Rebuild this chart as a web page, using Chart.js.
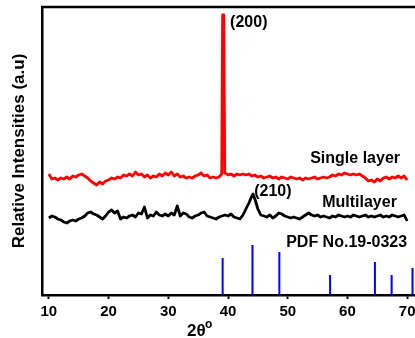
<!DOCTYPE html>
<html>
<head>
<meta charset="utf-8">
<script src="https://cdn.jsdelivr.net/npm/chart.js@4.4.0/dist/chart.umd.min.js"></script>
<style>
  html, body { margin: 0; padding: 0; background: #fff; overflow: hidden; }
  #wrap { width: 415px; height: 338px; overflow: hidden; }
</style>
</head>
<body>
<div id="wrap"><canvas id="xrd" width="440" height="338"></canvas></div>
<script>
// Single layer (red) - 2theta and intensity
const redAngle = [
  10, 10.5, 11, 11.5, 12, 12.5, 13, 13.5, 14, 14.5,
  15, 15.5, 16, 16.5, 17, 17.5, 18, 18.5, 19, 19.5,
  20, 20.5, 21, 21.5, 22, 22.5, 23, 23.5, 24, 24.5,
  25, 25.5, 26, 26.5, 27, 27.5, 28, 28.5, 29, 29.5,
  30, 30.5, 31, 31.5, 32, 32.5, 33, 33.5, 34, 34.5,
  35, 35.5, 36, 36.5, 37, 37.5, 38, 38.5,
  38.95, 39.1, 39.3, 39.45, 39.8,
  40, 40.5, 41, 41.5, 42, 42.5, 43, 43.5, 44, 44.5,
  45, 45.5, 46, 46.5, 47, 47.5, 48, 48.5, 49, 49.5,
  50, 50.5, 51, 51.5, 52, 52.5, 53, 53.5, 54, 54.5,
  55, 55.5, 56, 56.5, 57, 57.5, 58, 58.5, 59, 59.5,
  60, 60.5, 61, 61.5, 62, 62.5, 63, 63.5, 64, 64.5,
  65, 65.5, 66, 66.5, 67, 67.5, 68, 68.5, 69, 69.5,
  70
];
const redIntensity = [
  121, 116, 117, 115, 117, 116, 118, 116, 119, 118,
  120, 121, 119, 117, 114, 112, 110, 113, 111, 114,
  115, 117, 116, 118, 117, 120, 119, 121, 119, 123,
  120, 121, 118, 120, 117, 119, 118, 121, 119, 122,
  120, 123, 119, 121, 118, 119, 117, 118, 117, 119,
  120, 122, 119, 120, 117, 118, 117, 118,
  121, 280, 280, 122, 121,
  120, 121, 119, 121, 120, 121, 120, 121, 119, 120,
  118, 119, 117, 118, 119, 117, 118, 116, 118, 117,
  116, 118, 117, 116, 117, 115, 117, 116, 117, 118,
  116, 117, 118, 117, 118, 120, 119, 121, 120, 122,
  121, 120, 121, 120, 121, 119, 117, 114, 115, 113,
  116, 114, 117, 118, 116, 118, 117, 119, 117, 119,
  115
];

// Multilayer (black)
const blackAngle = [
  10, 10.5, 11, 11.5, 12, 12.5, 13, 13.5, 14, 14.5,
  15, 15.5, 16, 16.5, 17, 17.5, 18, 18.5, 19, 19.5,
  20, 20.5, 21, 21.5, 22, 22.5, 23, 23.5, 24, 24.5,
  25, 25.5, 26, 26.5, 27, 27.5, 28, 28.5, 29, 29.5,
  30, 30.5, 31, 31.5, 32, 32.5, 33, 33.5, 34, 34.5,
  35, 35.5, 36, 36.5, 37, 37.5, 38, 38.5, 39, 39.5,
  40, 40.5, 41, 41.5, 42, 42.5, 43, 43.5, 44, 44.2, 44.5,
  45, 45.5, 46, 46.5, 47, 47.5, 48, 48.5, 49, 49.5,
  50, 50.5, 51, 51.5, 52, 52.5, 53, 53.5, 54, 54.5,
  55, 55.5, 56, 56.5, 57, 57.5, 58, 58.5, 59, 59.5,
  60, 60.5, 61, 61.5, 62, 62.5, 63, 63.5, 64, 64.5,
  65, 65.5, 66, 66.5, 67, 67.5, 68, 68.5, 69, 69.5,
  70
];
const blackIntensity = [
  77, 79, 78, 76, 75, 73, 72, 74, 75, 74,
  76, 77, 79, 82, 83, 81, 80, 78, 76, 79,
  83, 85, 82, 84, 76, 78, 77, 79, 80, 78,
  82, 81, 88, 77, 80, 79, 83, 80, 79, 81,
  79, 82, 80, 89, 79, 82, 81, 78, 77, 79,
  80, 82, 83, 79, 78, 77, 76, 78, 79, 80,
  79, 81, 78, 77, 76, 80, 86, 92, 99, 101, 96,
  86, 80, 79, 78, 80, 77, 79, 82, 81, 79,
  78, 77, 78, 77, 76, 78, 80, 82, 80, 79,
  80, 78, 79, 78, 77, 79, 78, 80, 79, 78,
  79, 78, 80, 79, 78, 79, 80, 78, 79, 78,
  79, 80, 78, 79, 78, 80, 79, 78, 79, 80,
  74
];

// PDF No.19-0323 reference lines (blue)
const pdfAngle = [39.1, 44.1, 48.6, 57.1, 64.6, 67.4, 70.9];
const pdfIntensity = [37, 50, 43, 20, 33, 20, 27];

const xTickValues = [10, 20, 30, 40, 50, 60, 70];

// text labels inside the plot, anchored in data units
const notes = [
  { text: '(200)', x: 40.35, y: 272 },
  { text: 'Single layer', x: 53.76, y: 136 },
  { text: '(210)', x: 44.38, y: 103.5 },
  { text: 'Multilayer', x: 55.77, y: 92 },
  { text: 'PDF No.19-0323', x: 49.74, y: 52.5 }
];

const FONT = "'Liberation Sans', Arial, sans-serif";

const pairs = (xs, ys) => xs.map((x, i) => ({ x: x, y: ys[i] }));

const pdfPoints = [];
pdfAngle.forEach((a, i) => {
  pdfPoints.push({ x: a, y: 0 });
  pdfPoints.push({ x: a, y: pdfIntensity[i] });
  pdfPoints.push({ x: a, y: null });
});

const decorPlugin = {
  id: 'decor',
  afterDraw(chart) {
    const { ctx, chartArea, scales } = chart;
    ctx.save();
    // top frame line
    ctx.strokeStyle = '#000';
    ctx.lineWidth = 2.5;
    ctx.beginPath();
    ctx.moveTo(chartArea.left - 1, chartArea.top);
    ctx.lineTo(chartArea.right, chartArea.top);
    ctx.stroke();

    ctx.fillStyle = '#000';
    ctx.textBaseline = 'middle';
    ctx.textAlign = 'left';
    ctx.font = 'bold 16px ' + FONT;
    notes.forEach(n => {
      ctx.fillText(n.text, scales.x.getPixelForValue(n.x), scales.y.getPixelForValue(n.y));
    });

    // x axis title 2θ with superscript o
    const ty = chartArea.bottom + 36;
    ctx.font = 'bold 17px ' + FONT;
    ctx.fillText('2θ', 187, ty);
    ctx.font = 'bold 12px ' + FONT;
    ctx.fillText('o', 205, ty - 6);
    ctx.restore();
  }
};

new Chart(document.getElementById('xrd').getContext('2d'), {
  type: 'line',
  data: {
    datasets: [
      {
        label: 'Single layer',
        data: pairs(redAngle, redIntensity),
        borderColor: '#ff0000',
        borderWidth: 2.8,
        borderJoinStyle: 'round',
        pointRadius: 0,
        tension: 0,
        fill: false
      },
      {
        label: 'Multilayer',
        data: pairs(blackAngle, blackIntensity),
        borderColor: '#000000',
        borderWidth: 2.8,
        borderJoinStyle: 'round',
        pointRadius: 0,
        tension: 0,
        fill: false
      },
      {
        label: 'PDF No.19-0323',
        data: pdfPoints,
        borderColor: '#0000ff',
        borderWidth: 2,
        pointRadius: 0,
        spanGaps: false,
        fill: false
      }
    ]
  },
  options: {
    responsive: false,
    animation: false,
    devicePixelRatio: 1,
    layout: { padding: { top: 7, left: 0, right: 0, bottom: 0 } },
    plugins: {
      legend: { display: false },
      tooltip: { enabled: false }
    },
    scales: {
      x: {
        type: 'linear',
        min: 8.85,
        max: 75.5,
        afterBuildTicks: scale => { scale.ticks = xTickValues.map(v => ({ value: v })); },
        afterFit: scale => { scale.height = 43; },
        grid: { display: true, drawOnChartArea: false, drawTicks: true, tickLength: 4, tickWidth: 2, tickColor: '#000' },
        border: { display: true, color: '#000', width: 2.5 },
        ticks: {
          color: '#000',
          padding: 4,
          maxRotation: 0,
          font: { family: FONT, size: 15, weight: 'bold' }
        }
      },
      y: {
        min: 0,
        max: 288,
        afterFit: scale => { scale.width = 42; },
        grid: { display: true, drawOnChartArea: false, drawTicks: false },
        border: { display: true, color: '#000', width: 2.5 },
        ticks: { display: false },
        title: {
          display: true,
          text: 'Relative Intensities (a.u)',
          color: '#000',
          padding: { top: 9, bottom: 0 },
          font: { family: FONT, size: 17, weight: 'bold' }
        }
      }
    }
  },
  plugins: [decorPlugin]
});
</script>
</body>
</html>
